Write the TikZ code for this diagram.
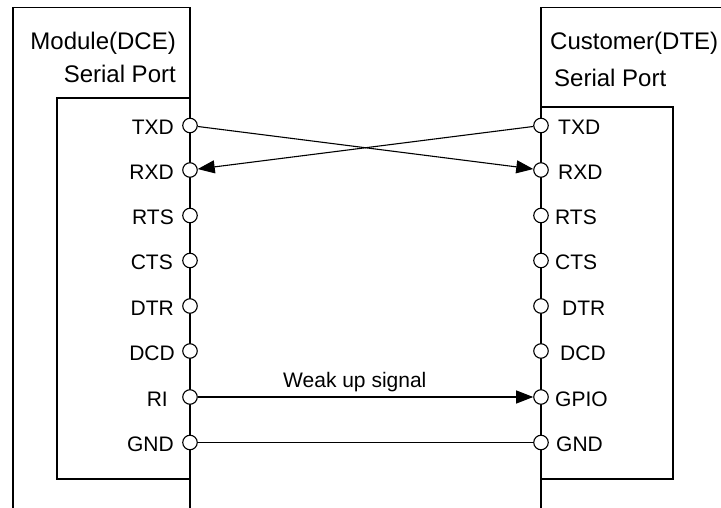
\documentclass[tikz,border=0pt]{standalone}
\usepackage{fontspec}
\setmainfont{Liberation Sans}
\usetikzlibrary{arrows.meta}
\tikzset{
  wire/.style={line width=1.1pt, black},
  pin/.style={circle, draw, line width=1.1pt, fill=white, minimum size=14.5pt, inner sep=0pt},
  plabel/.style={inner sep=0pt, font=\fontsize{21}{25}\selectfont},
  tlabel/.style={inner sep=0pt, font=\fontsize{24}{28}\selectfont},
  sig/.style={wire, -{Triangle[length=17pt,width=13pt]}},
}
\begin{document}
\begin{tikzpicture}[x=1pt,y=-1pt]
\useasboundingbox[fill=white] (0,0) rectangle (721,508);
% boxes
\draw[wire] (13,508) -- (13,7.5) -- (190,7.5) -- (190,508);
\draw[wire] (190,98) -- (57,98) -- (57,479) -- (190,479);
\draw[wire] (541,508) -- (541,7.5) -- (721,7.5);
\draw[wire] (541,107) -- (673,107) -- (673,479) -- (541,479);
% titles
\node[tlabel, anchor=base east] (t1) at (176,49.5) {Module(DCE)};
\node[tlabel, anchor=base east] (t2) at (176,83) {Serial Port};
\node[tlabel, anchor=base west] (t3) at (550,50) {Customer(DTE)};
\node[tlabel, anchor=base west] (t4) at (554,87) {Serial Port};
% pins
\foreach \n/\y in {TXD/125.5, RXD/170, RTS/215.5, CTS/260.5, DTR/306, DCD/351, RI/397, GND/442.5}{
  \node[pin] (l\n) at (190,\y) {};
  \node[pin] (r\n) at (541,\y) {};
}
% left labels
\node[plabel, anchor=east] (ltTXD) at (174,127.5) {TXD};
\node[plabel, anchor=east] (ltRXD) at (174,172) {RXD};
\node[plabel, anchor=east] (ltRTS) at (174,217.5) {RTS};
\node[plabel, anchor=east] (ltCTS) at (173,262.5) {CTS};
\node[plabel, anchor=east] (ltDTR) at (174,308) {DTR};
\node[plabel, anchor=east] (ltDCD) at (175,353) {DCD};
\node[plabel, anchor=east] (ltRI)  at (168,399) {RI};
\node[plabel, anchor=east] (ltGND) at (174,444.5) {GND};
% right labels
\node[plabel, anchor=west] (rtTXD) at (558,127.5) {TXD};
\node[plabel, anchor=west] (rtRXD) at (558,172) {RXD};
\node[plabel, anchor=west] (rtRTS) at (555,217.5) {RTS};
\node[plabel, anchor=west] (rtCTS) at (555,262.5) {CTS};
\node[plabel, anchor=west] (rtDTR) at (562,308) {DTR};
\node[plabel, anchor=west] (rtDCD) at (560,353) {DCD};
\node[plabel, anchor=west] (rtGPIO) at (555,399) {GPIO};
\node[plabel, anchor=west] (rtGND) at (556,444.5) {GND};
% signal label
\node[plabel, anchor=base west] (wk) at (283,387) {Weak up signal};
% connections
\draw[sig] (lTXD) -- (rRXD);
\draw[sig] (rTXD) -- (lRXD);
\draw[sig] (lRI) -- (rRI);
\draw[wire] (lGND) -- (rGND);
\end{tikzpicture}
\end{document}
